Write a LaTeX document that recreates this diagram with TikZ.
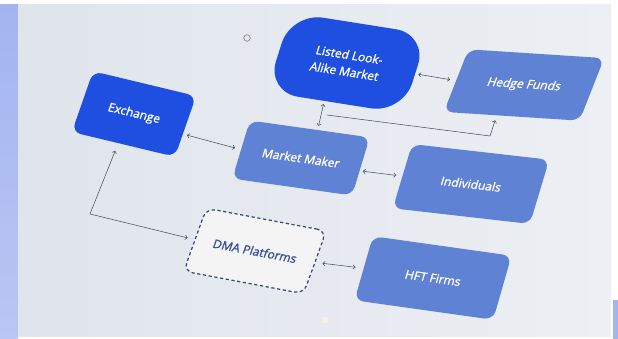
\documentclass[tikz,border=0pt]{standalone}
\usepackage{fontspec}
\setmainfont{Open Sans}
\newfontfamily\boxfont[FakeBold=1.2]{Open Sans}
\usetikzlibrary{calc,arrows.meta}
\definecolor{darkblue}{HTML}{1F4FE0}
\definecolor{midblue}{HTML}{5F82D4}
\definecolor{paperL}{HTML}{E0E5ED}
\definecolor{paperR}{HTML}{ECEFF3}
\definecolor{edgeblue}{HTML}{A3B4F0}
\definecolor{linegray}{HTML}{4A5263}
\definecolor{navy}{HTML}{34456F}
\definecolor{dmatext}{HTML}{3A4F9C}
\definecolor{dmafill}{HTML}{F3F4F3}
\begin{document}
\begin{tikzpicture}[x=1pt,y=-1pt,
  box/.style={rectangle, rounded corners=9pt, inner sep=0pt, align=center,
    font=\boxfont\fontsize{12}{17}\selectfont},
  darkbox/.style={box, fill=darkblue, text=white},
  midbox/.style={box, fill=midblue, text=white},
  dmabox/.style={box, fill=dmafill, draw=navy, line width=1.2pt,
    dash pattern=on 3.2pt off 2.6pt, text=dmatext},
  conn/.style={draw=linegray, line width=0.55pt,
    >={Straight Barb[length=2.2pt,width=4.4pt]}},
]
\useasboundingbox (0,0) rectangle (618,339);
% background
\fill[white] (0,0) rectangle (618,339);
\shade[top color=edgeblue, bottom color=edgeblue!75!white] (0,5) rectangle (18,339);
\shade[left color=paperL, right color=paperR] (18,5) rectangle (611,336);
\fill[edgeblue] (613,300) rectangle (618,339);
\draw[gray!80!black, line width=0.5pt] (247,38) circle (3.3pt);
\fill[white!85!orange!60!white, opacity=0.7] (325,320) circle (3.5pt);

% boxes
\node[darkbox, rotate=-13.5, xslant=0.1, minimum width=106pt, minimum height=64pt] (ex) at (134,114) {Exchange};
\node[darkbox, rotate=-9, xslant=0.15, minimum width=138pt, minimum height=82pt, rounded corners=32pt] (lt) at (347,63) {Listed Look-\\Alike Market};
\node[midbox, rotate=-3.7, xslant=0.32, minimum width=136pt, minimum height=64pt] (hf) at (524,85) {Hedge Funds};
\node[midbox, rotate=-8, xslant=0.155, minimum width=121pt, minimum height=60pt] (mm) at (301,158) {Market Maker};
\node[midbox, rotate=-6.5, xslant=0.18, minimum width=138pt, minimum height=66pt] (in) at (471,184) {Individuals};
\node[dmabox, rotate=-10.7, xslant=0.16, minimum width=122pt, minimum height=66pt] (dma) at (255,251) {DMA Platforms};
\node[midbox, rotate=-8, xslant=0.14, minimum width=140pt, minimum height=66pt] (hft) at (433,278) {HFT Firms};

% connectors
\coordinate (j1) at (327,115);
\coordinate (j2) at (490,136);
\coordinate (c1) at (90,214);
\draw[conn,<->,shorten <=4pt,shorten >=6pt] ($(ex.east)!.25!(ex.south east)$) -- (mm.west);
\draw[conn,<->,shorten <=3pt,shorten >=6pt] (lt.east) -- (hf.west);
\draw[conn,<->,shorten <=3pt,shorten >=4pt] ($(lt.south)!.15!(lt.south west)$) -- ($(mm.north)!.13!(mm.north east)$);
\draw[conn,->,shorten >=5pt] (j1) -- (j2) -- ($(hf.south)!.22!(hf.south west)$);
\draw[conn,<->,shorten <=3pt,shorten >=6pt] ($(mm.east)!.15!(mm.south east)$) -- (in.west);
\draw[conn,<->,shorten <=8pt,shorten >=7pt] ($(ex.south)!.1!(ex.south west)$) -- (c1) -- (dma.west);
\draw[conn,<->,shorten <=7pt,shorten >=8pt] (dma.east) -- (hft.west);
\end{tikzpicture}
\end{document}
